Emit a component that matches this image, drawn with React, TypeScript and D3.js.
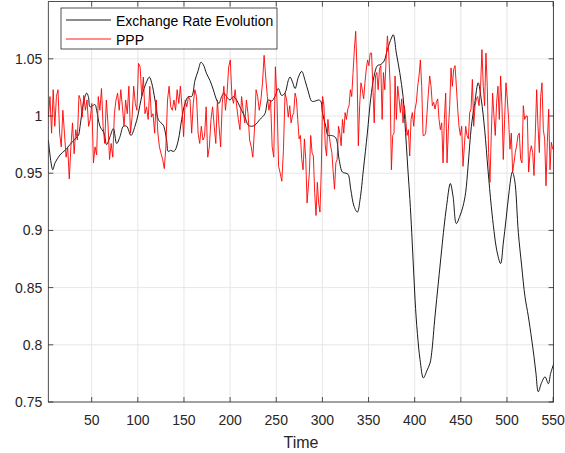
import React from 'react';
import * as d3 from 'd3';

const W = 565;
const H = 453;
const PLOT = { left: 48.3, right: 553.6, top: 1.6, bottom: 402 };

const xDomain: [number, number] = [3, 550.5];
const yDomain: [number, number] = [0.75, 1.1];
const xTicks = [50, 100, 150, 200, 250, 300, 350, 400, 450, 500, 550];
const yTicks = [0.75, 0.8, 0.85, 0.9, 0.95, 1, 1.05];
const yTickLabels = ['0.75', '0.8', '0.85', '0.9', '0.95', '1', '1.05'];
const xLabel = 'Time';
const seriesNames = ['Exchange Rate Evolution', 'PPP'];

// Exchange rate evolution (black), read at knots
const exchangeTime = [
  3.1, 7.8, 10.3, 15.7, 21.1, 26.5, 31.9, 35.6, 37.4, 40.3, 42.8, 44.6, 46.4, 48.2, 51.1, 53.6, 55.4, 59.0,
  63.4, 66.2, 69.9, 73.5, 77.1, 80.7, 84.3, 87.9, 92.6, 96.9, 100.5, 104.2, 109.6, 112.5, 115.0, 118.6,
  122.2, 125.1, 127.6, 131.2, 133.0, 135.6, 138.4, 140.3, 143.9, 147.5, 151.1, 154.7, 158.3, 161.9, 165.5,
  168.4, 170.9, 174.5, 178.2, 181.8, 185.4, 187.9, 190.8, 193.3, 196.2, 199.8, 203.4, 207.0, 210.6, 216.1,
  219.7, 223.3, 226.9, 232.3, 237.7, 241.3, 244.9, 248.6, 252.2, 255.8, 259.4, 263.0, 265.0, 267.9, 270.4,
  274.0, 277.6, 281.2, 284.8, 288.4, 292.1, 295.7, 298.2, 300.0, 303.6, 306.1, 309.7, 314.4, 318.1, 321.7,
  325.3, 327.8, 330.7, 334.3, 337.9, 340.8, 344.4, 348.7, 352.3, 356.0, 359.6, 363.2, 366.8, 370.4, 374.7,
  376.8, 380.1, 383.8, 387.4, 389.2, 391.0, 392.8, 394.8, 396.8, 398.6, 400.4, 402.9, 405.8, 409.4, 413.0,
  416.6, 418.4, 422.0, 425.6, 429.2, 431.8, 434.5, 438.6, 441.5, 445.1, 448.7, 452.3, 455.2, 457.8, 461.4,
  465.0, 468.8, 472.2, 475.8, 479.4, 483.0, 486.0, 488.8, 493.1, 496.0, 498.9, 502.0, 505.8, 508.3, 512.3,
  515.9, 519.5, 523.1, 526.7, 529.2, 531.4, 533.9, 537.5, 541.2, 544.8, 547.3, 550.9,
];
const exchangeRate = [
  0.979, 0.953, 0.959, 0.966, 0.970, 0.975, 0.980, 0.983, 0.991, 1.008, 1.017, 1.020, 1.017, 1.008, 1.009, 1.010, 1.005, 0.991,
  0.985, 0.975, 0.982, 0.989, 0.976, 0.982, 0.991, 0.991, 0.983, 0.991, 1.002, 1.017, 1.030, 1.034, 1.029, 1.014,
  0.997, 0.994, 0.992, 0.979, 0.969, 0.970, 0.969, 0.970, 0.979, 0.997, 1.011, 1.017, 1.017, 1.031, 1.040,
  1.047, 1.045, 1.037, 1.031, 1.023, 1.014, 1.011, 1.017, 1.020, 1.017, 1.014, 1.017, 1.014, 1.008, 0.999,
  0.992, 0.991, 0.992, 0.997, 1.002, 1.014, 1.013, 1.017, 1.024, 1.018, 1.020, 1.031, 1.034, 1.029, 1.024,
  1.034, 1.039, 1.031, 1.021, 1.013, 1.013, 1.014, 1.013, 1.003, 0.991, 0.983, 0.983, 0.981, 0.962, 0.951,
  0.950, 0.949, 0.936, 0.921, 0.916, 0.927, 0.953, 0.985, 1.015, 1.035, 1.044, 1.045, 1.048, 1.058, 1.068,
  1.071, 1.055, 1.038, 1.017, 0.997, 0.974, 0.951, 0.927, 0.898, 0.868, 0.839, 0.810, 0.787, 0.771, 0.777,
  0.784, 0.793, 0.825, 0.854, 0.883, 0.903, 0.921, 0.941, 0.930, 0.906, 0.912, 0.921, 0.933, 0.956, 0.991,
  1.011, 1.029, 1.014, 0.988, 0.953, 0.921, 0.899, 0.883, 0.871, 0.889, 0.909, 0.932, 0.951, 0.944, 0.898,
  0.869, 0.842, 0.825, 0.805, 0.790, 0.775, 0.759, 0.767, 0.772, 0.766, 0.775, 0.784,
];

// PPP (red), read in consecutive stretches; each stretch spans [start, end] in time
const pppSpanA: [number, number] = [3.07, 263.0];
const pppA = [
  0.999, 1.017, 0.985, 1.023, 0.991, 1.017, 1.023, 0.985, 0.973, 1.005,
  0.985, 0.964, 0.973, 0.945, 0.973, 0.994, 0.967, 0.988, 0.979, 1.018,
  1.014, 0.999, 1.018, 1.005, 1.014, 0.991, 0.997, 1.011, 0.959, 0.973,
  0.966, 1.017, 1.005, 1.024, 0.991, 0.976, 1.014, 0.994, 0.962, 0.976,
  0.964, 1.002, 1.014, 1.020, 1.005, 1.023, 1.008, 0.991, 1.014, 1.002,
  1.026, 0.985, 0.999, 1.026, 1.011, 1.005, 1.046, 1.043, 1.017, 1.034,
  1.002, 1.008, 0.997, 1.026, 0.999, 1.002, 0.985, 1.014, 0.985, 0.973,
  0.967, 0.962, 0.954, 0.973, 1.014, 1.026, 1.008, 1.005, 1.014, 1.005,
  1.023, 1.011, 1.026, 1.008, 0.982, 1.014, 1.008, 1.017, 1.014, 0.985,
  1.011, 1.023, 1.017, 0.985, 0.976, 0.991, 0.979, 0.982, 1.008, 0.964,
  0.973, 0.997, 1.008, 0.991, 0.976, 1.014, 0.991, 0.973, 1.011, 1.026,
  1.005, 1.020, 1.043, 1.049, 1.017, 1.011, 1.023, 1.008, 0.997, 0.988,
  1.017, 1.005, 0.994, 1.014, 1.002, 0.979, 0.973, 0.964, 0.988, 1.023,
  1.017, 1.005, 1.014, 1.029, 1.053, 1.034, 1.017, 1.005, 1.014, 0.973,
  0.964, 1.043, 1.014, 0.956, 0.950, 0.943, 0.970, 1.020, 1.014, 0.999,
];
const pppSpanB: [number, number] = [264.6, 283.4];
const pppB = [1.009, 0.994, 1.0, 1.003, 1.02, 1.015, 0.997, 0.98, 0.983, 0.962, 0.953, 0.98, 0.962, 0.924];
const pppSpanC: [number, number] = [285.9, 377.6];
const pppC = [
  0.951, 0.983, 0.968, 0.965, 0.933, 0.913, 0.942, 0.924, 0.916, 0.953,
  1.017, 1.009, 0.974, 0.965, 0.997, 0.983, 0.974, 0.968, 0.951, 0.936,
  0.959, 0.962, 0.991, 0.985, 0.974, 0.997, 0.985, 1.003, 0.997, 1.006,
  1.009, 1.023, 1.017, 1.038, 1.058, 1.074, 1.041, 0.974, 1.009, 1.029,
  1.023, 1.015, 1.029, 1.041, 1.049, 1.044, 1.055, 1.055, 1.026, 0.994,
  1.035, 1.038, 1.023, 1.041, 1.044, 0.997, 1.038, 1.023, 1.049, 1.070,
  1.055, 1.029, 0.953, 0.983, 0.985,
];
const pppSpanD: [number, number] = [378.7, 469.7];
const pppD = [
  1.035, 0.997, 1.026, 1.015, 1.003, 1.015, 0.994, 1.009, 0.997, 0.983,
  0.988, 0.965, 0.997, 1.003, 0.991, 1.006, 1.012, 1.026, 1.035, 1.049,
  1.026, 0.983, 0.983, 0.985, 1.003, 1.020, 1.035, 1.026, 1.009, 1.012,
  1.006, 1.012, 1.015, 0.997, 0.988, 0.994, 0.959, 0.997, 1.020, 0.959,
  0.988, 1.009, 1.042, 1.026, 1.041, 1.044, 1.026, 1.006, 0.991, 0.983,
  0.991, 0.956, 0.974, 0.991, 0.983, 0.980, 1.003, 1.006, 1.032, 0.991,
  1.009, 1.015, 1.017, 1.009,
];
const pppSpanE: [number, number] = [471.4, 549.5];
const pppE = [
  1.026, 1.058, 1.026, 1.009, 1.055, 1.026, 0.968, 0.942, 0.983, 1.020,
  1.000, 0.983, 1.012, 1.026, 0.997, 1.035, 1.009, 0.962, 0.997, 1.029,
  1.015, 0.997, 0.971, 0.985, 0.951, 0.959, 0.968, 0.974, 0.983, 0.985,
  0.962, 0.959, 1.009, 0.997, 1.000, 1.000, 0.951, 0.968, 0.974, 0.968,
  0.948, 0.985, 1.023, 0.991, 0.968, 1.017, 1.029, 0.988, 0.980, 0.939,
  0.977, 1.006, 0.953, 0.977, 0.971,
];

const pppSegments: { span: [number, number]; values: number[] }[] = [
  { span: pppSpanA, values: pppA },
  { span: pppSpanB, values: pppB },
  { span: pppSpanC, values: pppC },
  { span: pppSpanD, values: pppD },
  { span: pppSpanE, values: pppE },
];

const FONT = '"Liberation Sans", Arial, Helvetica, sans-serif';
const AX = '#262626';

export default function App() {
  const x = d3.scaleLinear().domain(xDomain).range([PLOT.left, PLOT.right]);
  const y = d3.scaleLinear().domain(yDomain).range([PLOT.bottom, PLOT.top]);

  const exchangePts: [number, number][] = exchangeTime.map((t, i) => [t, exchangeRate[i]]);
  const pppPts: [number, number][] = [];
  pppSegments.forEach(({ span, values }) => {
    const n = values.length;
    values.forEach((v, i) => {
      pppPts.push([span[0] + (i * (span[1] - span[0])) / (n - 1), v]);
    });
  });

  const blackLine = d3
    .line<[number, number]>()
    .x((d) => x(d[0]))
    .y((d) => y(d[1]))
    .curve(d3.curveCatmullRom.alpha(0.5));
  const redLine = d3
    .line<[number, number]>()
    .x((d) => x(d[0]))
    .y((d) => y(d[1]));

  const tickLen = 5;
  const pw = PLOT.right - PLOT.left;
  const ph = PLOT.bottom - PLOT.top;

  const legend = { x: 61, y: 8, w: 216, h: 41 };

  return (
    <svg
      width={W}
      height={H}
      style={{ position: 'absolute', left: 0, top: 0, background: '#fff' }}
      fontFamily={FONT}
    >
      <rect x={0} y={0} width={W} height={H} fill="#fff" />
      <defs>
        <clipPath id="plotClip">
          <rect x={PLOT.left} y={PLOT.top} width={pw} height={ph} />
        </clipPath>
      </defs>
      {/* grid */}
      <g stroke="#dfdfdf" strokeWidth={0.8}>
        {xTicks.map((t) => (
          <line key={'gx' + t} x1={x(t)} x2={x(t)} y1={PLOT.top} y2={PLOT.bottom} />
        ))}
        {yTicks.map((t) => (
          <line key={'gy' + t} x1={PLOT.left} x2={PLOT.right} y1={y(t)} y2={y(t)} />
        ))}
      </g>
      {/* data */}
      <g clipPath="url(#plotClip)" fill="none">
        <path d={blackLine(exchangePts) || ''} stroke="#000" strokeWidth={0.9} />
        <path d={redLine(pppPts) || ''} stroke="#ff0000" strokeWidth={0.9} strokeLinejoin="round" />
      </g>
      {/* box and ticks */}
      <g stroke={AX} strokeWidth={0.8} fill="none">
        <rect x={PLOT.left} y={PLOT.top} width={pw} height={ph} />
        {xTicks.map((t) => (
          <g key={'tx' + t}>
            <line x1={x(t)} x2={x(t)} y1={PLOT.bottom} y2={PLOT.bottom - tickLen} />
            <line x1={x(t)} x2={x(t)} y1={PLOT.top} y2={PLOT.top + tickLen} />
          </g>
        ))}
        {yTicks.map((t) => (
          <g key={'ty' + t}>
            <line x1={PLOT.left} x2={PLOT.left + tickLen} y1={y(t)} y2={y(t)} />
            <line x1={PLOT.right} x2={PLOT.right - tickLen} y1={y(t)} y2={y(t)} />
          </g>
        ))}
      </g>
      {/* tick labels */}
      <g fill={AX} fontSize={14}>
        {xTicks.map((t) => (
          <text key={'lx' + t} x={x(t)} y={PLOT.bottom + 23} textAnchor="middle">
            {t}
          </text>
        ))}
        {yTicks.map((t, i) => (
          <text key={'ly' + t} x={PLOT.left - 6} y={y(t) + 5} textAnchor="end">
            {yTickLabels[i]}
          </text>
        ))}
      </g>
      <text x={(PLOT.left + PLOT.right) / 2} y={448} textAnchor="middle" fontSize={16} fill={AX}>
        {xLabel}
      </text>
      {/* legend */}
      <g>
        <rect x={legend.x} y={legend.y} width={legend.w} height={legend.h} fill="#fff" stroke={AX} strokeWidth={0.8} />
        <line x1={66} x2={111} y1={20} y2={20} stroke="#000" strokeWidth={0.9} />
        <line x1={66} x2={111} y1={39} y2={39} stroke="#ff0000" strokeWidth={0.9} />
        <text x={116} y={25.5} fontSize={14} fill="#000">
          {seriesNames[0]}
        </text>
        <text x={116} y={44.5} fontSize={14} fill="#000">
          {seriesNames[1]}
        </text>
      </g>
    </svg>
  );
}
